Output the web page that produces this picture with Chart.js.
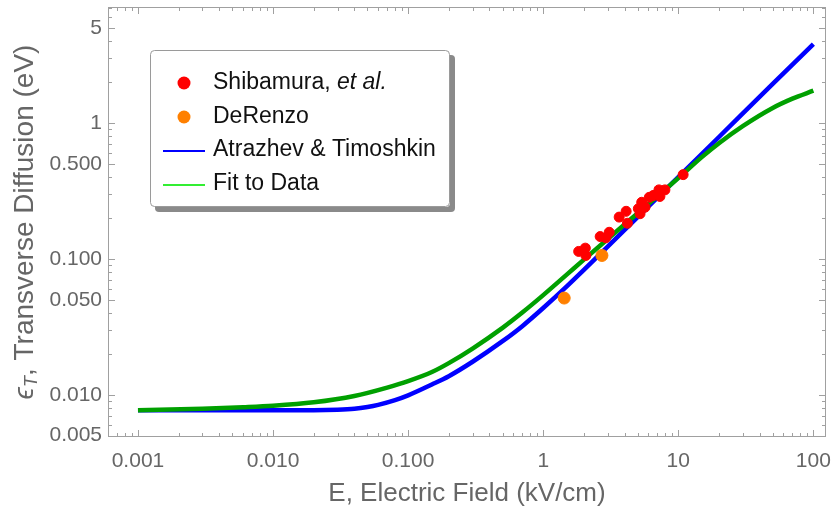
<!DOCTYPE html>
<html>
<head>
<meta charset="utf-8">
<script src="https://cdn.jsdelivr.net/npm/chart.js@4.4.1/dist/chart.umd.min.js"></script>
<style>
  html, body { margin: 0; padding: 0; background: #fff; }
  #wrap { width: 833px; height: 513px; }
</style>
</head>
<body>
<div id="wrap"><canvas id="c" width="833" height="513"></canvas></div>
<script>
// Transverse diffusion energy vs electric field (log-log)

// Shibamura et al. measurements (kV/cm, eV)
const shibE = [1.83, 2.05, 2.07, 2.64, 2.91, 3.08, 3.65, 4.11, 4.20, 5.06, 5.36, 5.67, 5.21, 6.10, 6.53, 6.99, 7.19, 7.31, 7.96, 10.86];
const shibV = [0.1135, 0.120, 0.106, 0.146, 0.143, 0.157, 0.203, 0.224, 0.183, 0.234, 0.261, 0.240, 0.215, 0.284, 0.293, 0.301, 0.322, 0.288, 0.322, 0.417];

// DeRenzo measurements
const derE = [1.43, 2.72];
const derV = [0.0515, 0.106];

// Atrazhev & Timoshkin curve
const atE = [0.001, 0.003, 0.01, 0.02, 0.03, 0.04, 0.05, 0.06, 0.08, 0.1, 0.15, 0.2, 0.3, 0.5, 0.7, 1, 1.5, 2, 3, 5, 10, 20, 50, 100];
const atV = [0.0077, 0.0077, 0.0077, 0.0077, 0.00776, 0.00789, 0.00813, 0.00843, 0.00913, 0.0099, 0.0119, 0.0137, 0.0175, 0.0248, 0.032, 0.0435, 0.063, 0.083, 0.123, 0.203, 0.40, 0.789, 1.94, 3.80];

// Fit to data curve
const fitE = [0.001, 0.003, 0.006, 0.01, 0.02, 0.04, 0.07, 0.1, 0.15, 0.2, 0.3, 0.5, 0.7, 1, 1.5, 2, 3, 5, 7, 10, 15, 20, 30, 50, 70, 100];
const fitV = [0.0077, 0.0079, 0.0081, 0.0083, 0.0088, 0.0098, 0.0113, 0.0126, 0.0147, 0.0171, 0.0219, 0.0311, 0.0403, 0.0541, 0.0769, 0.0988, 0.140, 0.217, 0.289, 0.393, 0.563, 0.71, 0.948, 1.29, 1.51, 1.73];

// tick labels
const xTickVals = [0.001, 0.01, 0.1, 1, 10, 100];
const xTickLabels = ['0.001', '0.010', '0.100', '1', '10', '100'];
const yTickVals = [0.005, 0.01, 0.05, 0.1, 0.5, 1, 5];
const yTickLabels = ['0.005', '0.010', '0.050', '0.100', '0.500', '1', '5'];

const X_MIN = 6.25e-4, X_MAX = 124;
const Y_MIN = 0.00489, Y_MAX = 7.14;

const FONT = 'Liberation Sans, Arial, sans-serif';
const AXIS_COLOR = '#666666';
const FRAME_COLOR = '#a0a0a0';

function pts(xs, ys) { return xs.map((x, i) => ({ x: x, y: ys[i] })); }

// minor tick positions: 1..9 times each decade inside the range
function logTicks(min, max) {
  const out = [];
  for (let d = -5; d <= 3; d++) {
    for (let m = 1; m <= 9; m++) {
      const v = m * Math.pow(10, d);
      if (v >= min && v <= max) out.push(v);
    }
  }
  return out;
}
const xAllTicks = logTicks(X_MIN, X_MAX);
const yAllTicks = logTicks(Y_MIN, Y_MAX);

function isMajor(v, list) { return list.some(t => Math.abs(Math.log10(t) - Math.log10(v)) < 1e-6); }
function labelFor(v, vals, labels) {
  for (let i = 0; i < vals.length; i++) {
    if (Math.abs(Math.log10(vals[i]) - Math.log10(v)) < 1e-6) return labels[i];
  }
  return '';
}

const framePlugin = {
  id: 'frame',
  afterDraw(chart) {
    const ctx = chart.ctx, a = chart.chartArea;
    const xs = chart.scales.x, ys = chart.scales.y;
    ctx.save();
    ctx.strokeStyle = FRAME_COLOR;
    ctx.lineWidth = 1;
    ctx.strokeRect(a.left + 0.5, a.top + 0.5, a.right - a.left - 1, a.bottom - a.top - 1);
    ctx.beginPath();
    xAllTicks.forEach(v => {
      const p = Math.round(xs.getPixelForValue(v)) + 0.5;
      const len = isMajor(v, xTickVals) ? 7 : 4;
      ctx.moveTo(p, a.bottom); ctx.lineTo(p, a.bottom - len);
      ctx.moveTo(p, a.top); ctx.lineTo(p, a.top + len);
    });
    yAllTicks.forEach(v => {
      const p = Math.round(ys.getPixelForValue(v)) + 0.5;
      const len = isMajor(v, yTickVals) ? 7 : 4;
      ctx.moveTo(a.left, p); ctx.lineTo(a.left + len, p);
      ctx.moveTo(a.right, p); ctx.lineTo(a.right - len, p);
    });
    ctx.stroke();

    // y axis title with subscript
    const cy = (a.top + a.bottom) / 2;
    ctx.translate(25, cy);
    ctx.rotate(-Math.PI / 2);
    ctx.fillStyle = AXIS_COLOR;
    ctx.textBaseline = 'middle';
    const fBig = 'italic 28px ' + FONT, fSub = 'italic 18px ' + FONT, fReg = '28px ' + FONT;
    const t1 = '\u03F5', t2 = 'T', t3 = ', Transverse Diffusion (eV)';
    ctx.font = fBig; const w1 = ctx.measureText(t1).width;
    ctx.font = fSub; const w2 = ctx.measureText(t2).width;
    ctx.font = fReg; const w3 = ctx.measureText(t3).width;
    let x0 = -(w1 + w2 + w3) / 2;
    ctx.font = fBig; ctx.fillText(t1, x0, 0); x0 += w1;
    ctx.font = fSub; ctx.fillText(t2, x0, 7); x0 += w2;
    ctx.font = fReg; ctx.fillText(t3, x0, 0);
    ctx.restore();

    // legend box
    ctx.save();
    const bx = 150, by = 50, bw = 300, bh = 157;
    ctx.fillStyle = '#8a8a8a';
    ctx.beginPath(); ctx.roundRect(bx + 5, by + 5, bw, bh, 4); ctx.fill();
    ctx.fillStyle = '#ffffff';
    ctx.beginPath(); ctx.roundRect(bx, by, bw, bh, 4); ctx.fill();
    ctx.strokeStyle = '#9a9a9a'; ctx.lineWidth = 1;
    ctx.beginPath(); ctx.roundRect(bx + 0.5, by + 0.5, bw - 1, bh - 1, 4); ctx.stroke();

    const tx = 213;
    const rows = [83, 117, 150, 184];
    ctx.textBaseline = 'middle';
    ctx.fillStyle = '#ff0000';
    ctx.beginPath(); ctx.arc(184, rows[0], 6.5, 0, Math.PI * 2); ctx.fill();
    ctx.fillStyle = '#ff8000';
    ctx.beginPath(); ctx.arc(184, rows[1], 6.5, 0, Math.PI * 2); ctx.fill();
    ctx.lineWidth = 2;
    ctx.strokeStyle = '#0000ff';
    ctx.beginPath(); ctx.moveTo(163, rows[2] + 1); ctx.lineTo(205, rows[2] + 1); ctx.stroke();
    ctx.strokeStyle = '#33ee33';
    ctx.beginPath(); ctx.moveTo(163, rows[3] + 1); ctx.lineTo(205, rows[3] + 1); ctx.stroke();

    ctx.fillStyle = '#111111';
    ctx.font = '23px ' + FONT;
    const s1 = 'Shibamura, ';
    ctx.fillText(s1, tx, rows[0]);
    const ws1 = ctx.measureText(s1).width;
    ctx.font = 'italic 23px ' + FONT;
    ctx.fillText('et al.', tx + ws1, rows[0]);
    ctx.font = '23px ' + FONT;
    ctx.fillText('DeRenzo', tx, rows[1]);
    ctx.fillText('Atrazhev & Timoshkin', tx, rows[2]);
    ctx.fillText('Fit to Data', tx, rows[3]);
    ctx.restore();
  }
};

const chart = new Chart(document.getElementById('c').getContext('2d'), {
  type: 'scatter',
  data: {
    datasets: [
      {
        label: 'Shibamura, et al.',
        data: pts(shibE, shibV),
        backgroundColor: '#ff0000',
        borderColor: '#ff0000',
        pointRadius: 5,
        showLine: false
      },
      {
        label: 'DeRenzo',
        data: pts(derE, derV),
        backgroundColor: '#ff8000',
        borderColor: '#ff8000',
        pointRadius: 6,
        showLine: false
      },
      {
        label: 'Fit to Data',
        data: pts(fitE, fitV),
        borderColor: '#00a000',
        borderWidth: 4.5,
        pointRadius: 0,
        showLine: true,
        cubicInterpolationMode: 'monotone'
      },
      {
        label: 'Atrazhev & Timoshkin',
        data: pts(atE, atV),
        borderColor: '#0000ff',
        borderWidth: 4.5,
        pointRadius: 0,
        showLine: true,
        cubicInterpolationMode: 'monotone'
      }
    ]
  },
  options: {
    responsive: false,
    animation: false,
    devicePixelRatio: 1,
    layout: { padding: { left: 0, right: 6, top: 6, bottom: 0 } },
    plugins: {
      legend: { display: false },
      tooltip: { enabled: false }
    },
    scales: {
      x: {
        type: 'logarithmic',
        min: X_MIN,
        max: X_MAX,
        grid: { display: false, drawTicks: false },
        border: { display: false },
        afterBuildTicks: s => { s.ticks = xAllTicks.map(v => ({ value: v })); },
        afterFit: s => { s.height = 76; s.paddingLeft = 0; s.paddingRight = 0; },
        ticks: {
          autoSkip: false,
          maxRotation: 0,
          padding: 12,
          color: AXIS_COLOR,
          font: { family: FONT, size: 21 },
          callback: v => labelFor(v, xTickVals, xTickLabels)
        },
        title: {
          display: true,
          text: 'E, Electric Field (kV/cm)',
          color: AXIS_COLOR,
          font: { family: FONT, size: 26 },
          padding: { top: 0, bottom: 4 }
        }
      },
      y: {
        type: 'logarithmic',
        min: Y_MIN,
        max: Y_MAX,
        grid: { display: false, drawTicks: false },
        border: { display: false },
        afterBuildTicks: s => { s.ticks = yAllTicks.map(v => ({ value: v })); },
        afterFit: s => { s.width = 108; s.paddingTop = 0; s.paddingBottom = 0; },
        ticks: {
          autoSkip: false,
          padding: 6,
          color: AXIS_COLOR,
          font: { family: FONT, size: 21 },
          callback: v => labelFor(v, yTickVals, yTickLabels)
        }
      }
    }
  },
  plugins: [framePlugin]
});
</script>
</body>
</html>
